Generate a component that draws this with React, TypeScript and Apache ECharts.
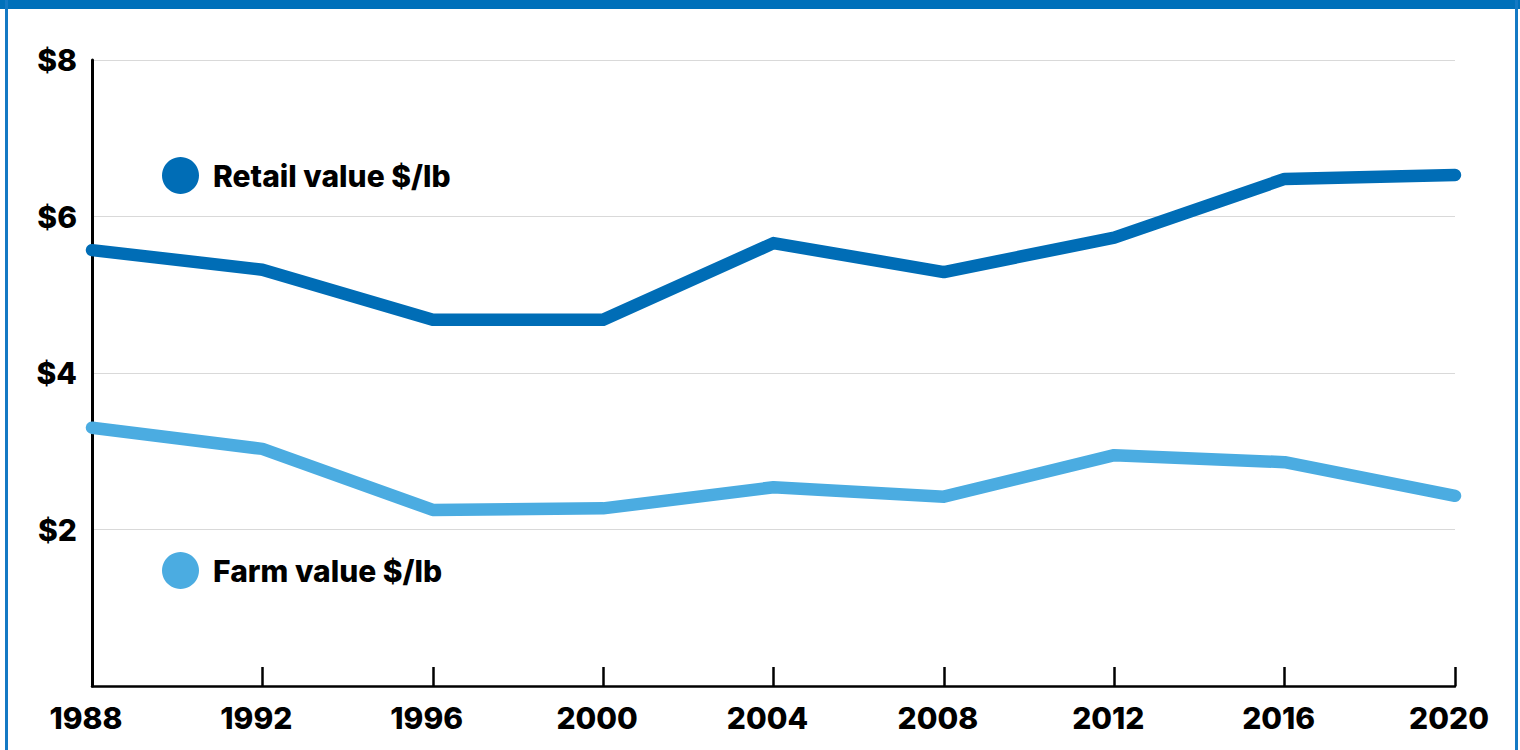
import React, { useEffect, useRef } from "react";
import * as echarts from "echarts";

const years = [1988, 1992, 1996, 2000, 2004, 2008, 2012, 2016, 2020];
const retailValues = [5.57, 5.32, 4.68, 4.68, 5.66, 5.29, 5.73, 6.48, 6.53];
const farmValues = [3.3, 3.03, 2.25, 2.27, 2.54, 2.42, 2.95, 2.86, 2.43];
const retailName = "Retail value $/lb";
const farmName = "Farm value $/lb";
const retailColor = "#006DB6";
const farmColor = "#4BACE1";
const fontFamily = "Inter, Roboto, 'Noto Sans', Arial, sans-serif";

export default function App() {
  const ref = useRef<HTMLDivElement>(null);
  useEffect(() => {
    if (!ref.current) return;
    const chart = echarts.init(ref.current, null, { renderer: "svg" });
    const legendBase = {
      icon: "circle",
      itemWidth: 37,
      itemHeight: 37,
      selectedMode: false,
      textStyle: {
        fontFamily,
        fontWeight: 800,
        fontSize: 30,
        color: "#000",
        padding: [0, 0, 0, 9],
      },
    };
    chart.setOption({
      animation: false,
      backgroundColor: "#fff",
      graphic: [
        { type: "rect", shape: { x: 0, y: 0, width: 1520, height: 9 }, style: { fill: "#0070BA" } },
        { type: "rect", shape: { x: 5, y: 0, width: 3, height: 750 }, style: { fill: "#1479C4" } },
        { type: "rect", shape: { x: 1515, y: 0, width: 3, height: 750 }, style: { fill: "#1479C4" } },
      ],
      legend: [
        { ...legendBase, data: [retailName], left: 157, top: 152 },
        { ...legendBase, data: [farmName], left: 157, top: 547 },
      ],
      grid: { left: 92, right: 65, top: 60, bottom: 64 },
      xAxis: {
        type: "value",
        min: 1988,
        max: 2020,
        interval: 4,
        axisLine: { show: true, lineStyle: { color: "#000", width: 2.5 } },
        axisTick: { show: true, inside: true, length: 19, lineStyle: { color: "#000", width: 2.5 } },
        splitLine: { show: false },
        axisLabel: {
          margin: 17,
          fontFamily,
          fontWeight: 800,
          fontSize: 30,
          color: "#000",
          padding: [0, 12, 0, 0],
          formatter: (v: number) => String(v),
        },
      },
      yAxis: {
        type: "value",
        min: 0,
        max: 8,
        interval: 2,
        axisLine: { show: true, lineStyle: { color: "#000", width: 3 } },
        axisTick: { show: false },
        splitLine: { show: true, lineStyle: { color: "#d9d9d9", width: 1 } },
        axisLabel: {
          margin: 15,
          fontFamily,
          fontWeight: 800,
          fontSize: 30,
          color: "#000",
          formatter: (v: number) => (v === 0 ? "" : "$" + v),
        },
      },
      series: [
        {
          name: retailName,
          type: "line",
          data: years.map((y, i) => [y, retailValues[i]]),
          color: retailColor,
          showSymbol: false,
          symbol: "none",
          lineStyle: { width: 12.5, color: retailColor, cap: "round", join: "round" },
        },
        {
          name: farmName,
          type: "line",
          data: years.map((y, i) => [y, farmValues[i]]),
          color: farmColor,
          showSymbol: false,
          symbol: "none",
          lineStyle: { width: 12.5, color: farmColor, cap: "round", join: "round" },
        },
      ],
    });
    return () => chart.dispose();
  }, []);
  return (
    <div
      ref={ref}
      style={{ position: "fixed", left: 0, top: 0, width: 1520, height: 750 }}
    />
  );
}
